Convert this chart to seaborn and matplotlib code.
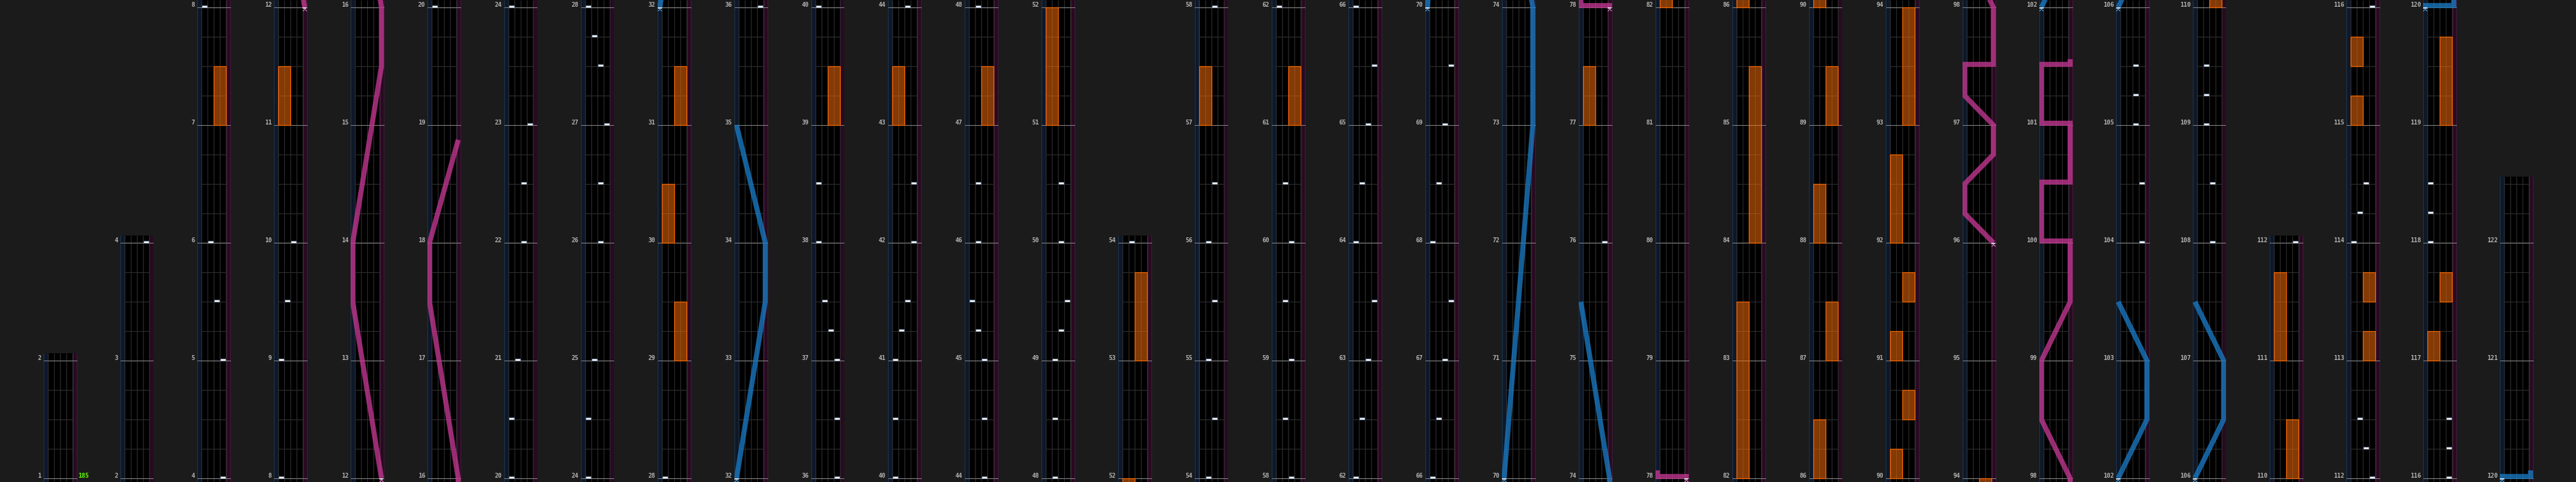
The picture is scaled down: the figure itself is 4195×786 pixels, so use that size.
import matplotlib
matplotlib.use("Agg")
import matplotlib.pyplot as plt
from matplotlib.path import Path
import seaborn as sns

# ----------------------------- data -----------------------------
col_start = [1, 2, 4, 8, 12, 16, 20, 24, 28, 32, 36, 40, 44, 48, 52, 54, 58, 62,
             66, 70, 74, 78, 82, 86, 90, 94, 98, 102, 106, 110, 112, 116, 120]
col_end = [2, 4, 8, 12, 16, 20, 24, 28, 32, 36, 40, 44, 48, 52, 54, 58, 62, 66,
           70, 74, 78, 82, 86, 90, 94, 98, 102, 106, 110, 112, 116, 120, 122]
chart_end = 122.56
bpm_label = "185"

note_time = [4.0, 5.0, 5.5, 6.0, 8.0, 9.0, 9.5, 10.0,
             20.0, 20.5, 21.0, 22.0, 22.5, 23.0, 24.0,
             24.5, 25.0, 26.0, 26.5, 27.0, 27.5, 27.75, 28.0,
             36.0, 36.5, 37.0, 37.25, 37.5, 38.0, 38.5, 40.0,
             40.5, 41.0, 41.25, 41.5, 42.0, 42.5, 44.0,
             44.5, 45.0, 45.25, 45.5, 46.0, 46.5, 48.0,
             48.5, 49.0, 49.25, 49.5, 50.0, 50.5,
             54.0, 54.5, 55.0, 55.5, 56.0, 56.5, 58.0,
             58.5, 59.0, 59.5, 60.0, 60.5, 62.0,
             62.5, 63.0, 63.5, 64.0, 64.5, 65.0, 65.5, 66.0,
             66.5, 67.0, 67.5, 68.0, 68.5, 69.0, 69.5,
             76.0,
             104.0, 104.5, 105.0, 105.25, 105.5,
             108.0, 108.5, 109.0, 109.25, 109.5,
             112.0, 112.25, 112.5, 114.0, 114.25, 114.5, 116.0,
             116.25, 116.5, 118.0, 118.25, 118.5]
note_lane = [3, 3, 2, 1, 0, 0, 1, 2,
             0, 0, 1, 2, 2, 3, 0,
             0, 1, 2, 2, 3, 2, 1, 0,
             3, 3, 3, 2, 1, 0, 0, 0,
             0, 0, 1, 2, 3, 3, 2,
             2, 2, 1, 0, 1, 1, 1,
             1, 1, 2, 3, 2, 2,
             1, 2, 1, 2, 1, 2, 2,
             1, 2, 1, 2, 1, 0,
             1, 2, 3, 0, 1, 2, 3, 0,
             1, 2, 3, 0, 1, 2, 3,
             3,
             3, 3, 2, 2, 2,
             2, 2, 1, 1, 1,
             3, 2, 1, 0, 1, 2, 3,
             3, 3, 0, 0, 0]

hold_start = [7.0, 11.0, 29.0, 30.0, 31.0, 39.0, 43.0, 47.0, 51.0, 53.0, 57.0, 61.0,
              77.0, 82.0, 84.0, 86.0, 87.0, 88.0, 89.0, 90.0, 90.5, 91.0, 91.5, 92.0,
              93.0, 110.0, 111.0, 113.0, 113.5, 115.0, 115.5, 117.0, 117.5, 119.0]
hold_end = [7.5, 11.5, 29.5, 30.5, 31.5, 39.5, 43.5, 47.5, 52.0, 53.75, 57.5, 61.5,
            77.5, 83.5, 85.5, 86.5, 87.5, 88.5, 89.5, 90.25, 90.75, 91.25, 91.75, 92.75,
            94.0, 110.5, 111.75, 113.25, 113.75, 115.25, 115.75, 117.25, 117.75, 119.75]
hold_lane = [2, 0, 2, 0, 2, 2, 0, 2, 0, 2, 0, 2,
             0, 0, 2, 0, 2, 0, 2, 0, 2, 0, 2, 0,
             2, 2, 0, 2, 2, 0, 0, 0, 2, 2]

pink_a_time = [12.0, 13.5, 14.0, 15.5, 16.0, 17.5, 18.0, 18.875]
pink_a_side = [1, 0, 0, 1, 1, 0, 0, 1]
pink_b_time = [78.0, 78.016, 78.016, 78.07]
pink_b_side = [1, 1, 0, 0]
pink_c_time = [96.0, 96.25, 96.5, 96.75, 97.0, 97.25, 97.516, 97.516, 98.0, 98.5,
               99.0, 99.5, 100.016, 100.016, 100.516, 100.516, 101.016, 101.016,
               101.516, 101.516, 101.56]
pink_c_side = [1, 0, 0, 1, 1, 0, 0, 1, 1, 0, 0, 1, 1, 0, 0, 1, 1, 0, 0, 1, 1]

blue_a_time = [32.0, 33.5, 34.0, 35.0]
blue_a_side = [0, 1, 1, 0]
blue_b_time = [70.0, 73.0, 74.0, 75.5]
blue_b_side = [0, 1, 1, 0]
blue_c_time = [102.0, 102.5, 103.0, 103.5]
blue_c_side = [0, 1, 1, 0]
blue_d_time = [106.0, 106.5, 107.0, 107.5]
blue_d_side = [0, 1, 1, 0]
blue_e_time = [120.0, 120.016, 120.016, 120.07]
blue_e_side = [0, 0, 1, 1]

# ----------------------------- style -----------------------------
sns.set_theme(style="dark", rc={"axes.facecolor": "black", "figure.facecolor": "#1b1b1b"})
plt.rcParams["font.family"] = ["DejaVu Sans Mono", "DejaVu Sans"]

FIG_W, FIG_H = 4195, 786
PX_PER_MEASURE = 192.0
COL_X0, COL_STEP, PANEL_W = 70.5, 125.0, 55.0
BOTTOM_PAD = 6 / PX_PER_MEASURE
TOP_PAD = 12 / PX_PER_MEASURE
SIDE_X = {0: -0.36, 1: 4.32}

PINK, PINK_LIGHT = "#c0378f", "#e27bc6"
BLUE, BLUE_LIGHT = "#1a78c0", "#4aa3e0"

paths = [
    (pink_a_time, pink_a_side, PINK, PINK_LIGHT),
    (pink_b_time, pink_b_side, PINK, PINK_LIGHT),
    (pink_c_time, pink_c_side, PINK, PINK_LIGHT),
    (blue_a_time, blue_a_side, BLUE, BLUE_LIGHT),
    (blue_b_time, blue_b_side, BLUE, BLUE_LIGHT),
    (blue_c_time, blue_c_side, BLUE, BLUE_LIGHT),
    (blue_d_time, blue_d_side, BLUE, BLUE_LIGHT),
    (blue_e_time, blue_e_side, BLUE, BLUE_LIGHT),
]

caret = Path([(-1, -0.55), (0, 0.55), (1, -0.55)], [Path.MOVETO, Path.LINETO, Path.LINETO])

fig = plt.figure(figsize=(FIG_W / 100, FIG_H / 100), dpi=100, facecolor="#1b1b1b")

n_cols = len(col_start)
for k in range(n_cols):
    s, e = col_start[k], col_end[k]
    y0 = s - BOTTOM_PAD
    y1 = chart_end if k == n_cols - 1 else e + TOP_PAD
    h_px = (y1 - y0) * PX_PER_MEASURE
    ax = fig.add_axes([(COL_X0 + COL_STEP * k) / FIG_W, 0, PANEL_W / FIG_W, h_px / FIG_H])
    ax.set_facecolor("black")

    # side strips
    ax.axvspan(-0.75, 0, color="#0e1829", lw=0, zorder=0.5)
    ax.axvspan(4, 4.75, color="#270b20", lw=0, zorder=0.5)
    ax.vlines([-0.72, -0.05], y0, y1, color="#1d3550", lw=0.9, zorder=0.6)
    ax.vlines([4.05, 4.72], y0, y1, color="#45183a", lw=0.9, zorder=0.6)

    # lane + beat grid
    ax.vlines([0, 1, 2, 3, 4], y0, y1, color="#2f2f2f", lw=0.75, zorder=1)
    q = s
    beats = []
    while q <= y1:
        if abs(q - round(q)) > 1e-6:
            beats.append(q)
        q += 0.25
    ax.hlines(beats, 0, 4, color="#303030", lw=0.75, zorder=1)

    # measure lines + labels
    measures = list(range(s, e + 1))
    ax.hlines(measures, -0.75, 4.75, color="#8c8c8c", lw=0.75, zorder=2)
    for m in measures:
        ax.annotate(str(m), xy=(0, m), xycoords=("axes fraction", "data"),
                    xytext=(-3, 1), textcoords="offset pixels", ha="right", va="baseline",
                    fontsize=7, fontweight="bold", color="#b2b2b2", annotation_clip=False)
    if k == 0:
        ax.annotate(bpm_label, xy=(1, s), xycoords=("axes fraction", "data"),
                    xytext=(2, 1), textcoords="offset pixels", ha="left", va="baseline",
                    fontsize=7, fontweight="bold", color="#66ff00", annotation_clip=False)

    # freeze bars
    ax.bar([l + 1 for l in hold_lane], [b - a for a, b in zip(hold_start, hold_end)],
           bottom=hold_start, width=2, facecolor=(1.0, 0.44, 0.04, 0.52),
           edgecolor="#ff6a00", linewidth=0.9, zorder=3)

    # notes
    ax.bar([l + 0.5 for l in note_lane], 3 / PX_PER_MEASURE, bottom=note_time, width=0.82,
           facecolor="#eef3fa", edgecolor="#a4b8d2", linewidth=0.5, zorder=4)

    # pink / blue paths
    for times, sides, col, light in paths:
        xs = [SIDE_X[v] for v in sides]
        sns.lineplot(x=xs, y=times, sort=False, estimator=None, ax=ax, color=col,
                     linewidth=5.9, alpha=0.8, solid_capstyle="butt",
                     solid_joinstyle="miter", zorder=5)
        ax.plot([xs[0]], [times[0] - 4 / PX_PER_MEASURE], marker=caret, ms=4.5,
                mfc="none", mec=light, mew=0.9, ls="none", zorder=6)
        ax.bar([xs[0]], 2 / PX_PER_MEASURE, bottom=times[0] - 2 / PX_PER_MEASURE,
               width=0.65, color="#dfe8f5", lw=0, zorder=6)

    ax.set_xlim(-0.75, 4.75)
    ax.set_ylim(y0, y1)
    ax.set_xticks([])
    ax.set_yticks([])
    ax.set_xlabel("")
    ax.set_ylabel("")
    ax.grid(False)
    for sp in ax.spines.values():
        sp.set_visible(False)

fig.savefig("out.png", dpi=100, facecolor=fig.get_facecolor())
